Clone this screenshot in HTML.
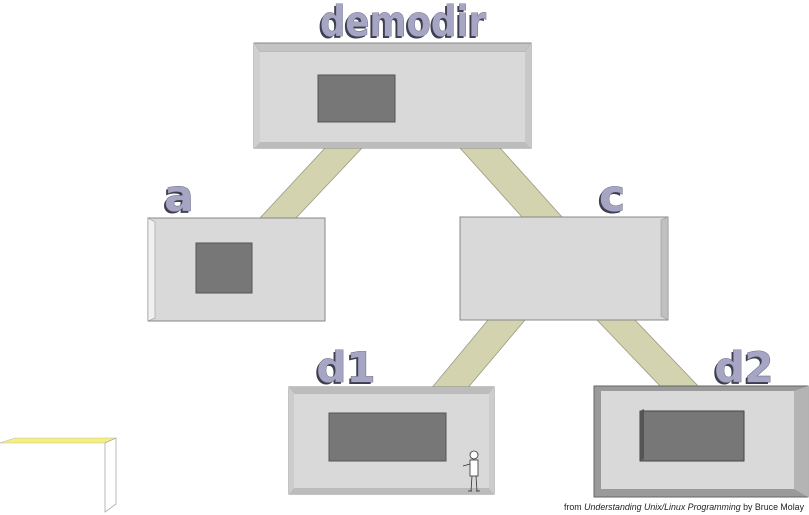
<!DOCTYPE html>
<html><head><style>
html,body{margin:0;padding:0;background:#fff;}
svg{display:block}
.sh{font-family:"DejaVu Sans","Liberation Sans",sans-serif;font-weight:bold;fill:#3e3e50}
.lb{font-family:"DejaVu Sans","Liberation Sans",sans-serif;font-weight:bold;fill:#a6a6c4;stroke:#55556a;stroke-width:0.8;paint-order:stroke}
</style></head><body>
<svg width="809" height="515" viewBox="0 0 809 515" xmlns="http://www.w3.org/2000/svg">
<g fill="#d3d3b0" stroke="#9a9a80" stroke-width="0.8">
<polygon points="325,148 362,148 296,218 260,218"/>
<polygon points="460,148 500,148 562,217 522,217"/>
<polygon points="488,320 525,320 466,390 430,390"/>
<polygon points="597,320 635,320 700,388 662,388"/>
</g>
<polygon points="254,43 531,43 525,52 260,52" fill="#c4c4c4" stroke="#999" stroke-width="0.6"/>
<rect x="254" y="43" width="277" height="105" fill="none" stroke="#888" stroke-width="1"/>
<rect x="260" y="52" width="265" height="90" fill="#d9d9d9"/>
<polygon points="525,52 531,43 531,148 525,142" fill="#c8c8c8"/>
<polygon points="254,43 260,52 260,142 254,148" fill="#cfcfcf"/>
<polygon points="260,142 525,142 531,148 254,148" fill="#bcbcbc"/>
<rect x="318" y="75" width="77" height="47" fill="#777" stroke="#555" stroke-width="1"/>
<rect x="148" y="218" width="177" height="103" fill="#d9d9d9" stroke="#888" stroke-width="1"/>
<polygon points="148,218 155,222 155,318 148,321" fill="#f0f0f0" stroke="#999" stroke-width="0.6"/>
<rect x="196" y="243" width="56" height="50" fill="#777" stroke="#555" stroke-width="1"/>
<rect x="460" y="217" width="208" height="103" fill="#d9d9d9" stroke="#888" stroke-width="1"/>
<polygon points="661,220 668,217 668,320 661,316" fill="#c0c0c0" stroke="#999" stroke-width="0.6"/>
<rect x="289" y="387" width="205" height="107" fill="#d9d9d9" stroke="#888" stroke-width="1"/>
<polygon points="289,387 494,387 489,394 294,394" fill="#bcbcbc"/>
<polygon points="294,488 489,488 494,494 289,494" fill="#bcbcbc"/>
<polygon points="289,387 294,394 294,488 289,494" fill="#cccccc"/>
<polygon points="489,394 494,387 494,494 489,488" fill="#cccccc"/>
<rect x="329" y="413" width="117" height="48" fill="#777" stroke="#555" stroke-width="1"/>
<g stroke="#333" stroke-width="0.8" fill="#fff">
<circle cx="474" cy="455" r="4"/>
<rect x="470" y="460" width="8" height="16"/>
<line x1="470" y1="464" x2="463" y2="466"/>
<line x1="472" y1="476" x2="471" y2="491"/>
<line x1="476" y1="476" x2="477" y2="491"/>
<line x1="468" y1="491" x2="472" y2="491"/>
<line x1="476" y1="491" x2="480" y2="491"/>
</g>
<rect x="594" y="386" width="214" height="111" fill="#9a9a9a" stroke="#666" stroke-width="1"/>
<rect x="601" y="391" width="193" height="98" fill="#d9d9d9"/>
<polygon points="794,391 808,386 808,497 794,489" fill="#b4b4b4"/>
<rect x="640" y="411" width="104" height="50" fill="#777" stroke="#444" stroke-width="1"/>
<polygon points="640,411 644,409 644,459 640,461" fill="#555"/>
<polygon points="0,443 15,438 116,438 105,443" fill="#f6f07a" stroke="#bbb" stroke-width="0.6"/>
<polygon points="105,443 116,438 116,504 105,512" fill="#fff" stroke="#aaa" stroke-width="0.8"/>
<text class="sh" x="401" y="38" font-size="42" text-anchor="middle" textLength="166" lengthAdjust="spacingAndGlyphs">demodir</text>
<text class="lb" x="403" y="36" font-size="42" text-anchor="middle" textLength="166" lengthAdjust="spacingAndGlyphs">demodir</text>
<text class="sh" x="177" y="213" font-size="44" text-anchor="middle">a</text>
<text class="lb" x="179" y="211" font-size="44" text-anchor="middle">a</text>
<text class="sh" x="610" y="213" font-size="44" text-anchor="middle">c</text>
<text class="lb" x="612" y="211" font-size="44" text-anchor="middle">c</text>
<text class="sh" x="344" y="384" font-size="42" text-anchor="middle">d1</text>
<text class="lb" x="346" y="382" font-size="42" text-anchor="middle">d1</text>
<text class="sh" x="742" y="384" font-size="42" text-anchor="middle">d2</text>
<text class="lb" x="744" y="382" font-size="42" text-anchor="middle">d2</text>
<text x="564" y="510" font-family="Liberation Sans,sans-serif" font-size="9" fill="#222" textLength="240" lengthAdjust="spacingAndGlyphs">from <tspan font-style="italic">Understanding Unix/Linux Programming</tspan> by Bruce Molay</text>
</svg>
</body></html>
